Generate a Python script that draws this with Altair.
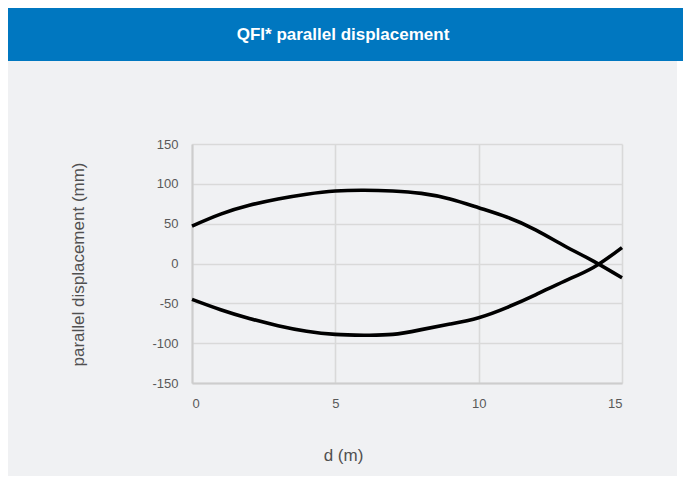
import altair as alt
import pandas as pd

d_m = list(range(16))
upper = [47, 62, 73, 81, 87, 91, 92, 91, 88, 81, 70, 58, 42, 22, 3, -18]
lower = [-45, -58, -69, -78, -85, -89, -90, -89, -83, -76, -68, -55, -39, -22, -5, 20]
x_ticks = [0, 5, 10, 15]
y_ticks = [-150, -100, -50, 0, 50, 100, 150]
title_text = "QFI* parallel displacement"

df = pd.DataFrame({
    "d": d_m + d_m,
    "v": upper + lower,
    "s": ["upper"] * len(d_m) + ["lower"] * len(d_m),
})

FONT = "Liberation Sans"

one = alt.Data(values=[{}])

blue = alt.Chart(one).mark_rect(color="#0077c0").encode(
    x=alt.value(-184), x2=alt.value(491), y=alt.value(-136), y2=alt.value(-83)
)
white_strip = alt.Chart(one).mark_rect(color="#ffffff").encode(
    x=alt.value(485), x2=alt.value(491), y=alt.value(-83), y2=alt.value(332)
)
title = alt.Chart(one).mark_text(
    text=title_text, color="white", fontSize=17, font=FONT, fontWeight="bold",
    align="center", baseline="middle"
).encode(x=alt.value(151), y=alt.value(-109))

line = alt.Chart(df).mark_line(color="black", strokeWidth=3.6, interpolate="natural").encode(
    x=alt.X("d:Q", scale=alt.Scale(domain=[0, 15], nice=False),
            axis=alt.Axis(values=x_ticks, title="d (m)", titleX=151, titleY=72,
                          titleBaseline="middle", labelPadding=14,
                          labelExpr="toString(datum.value)")),
    y=alt.Y("v:Q", scale=alt.Scale(domain=[-150, 150], nice=False),
            axis=alt.Axis(values=y_ticks, title="parallel displacement (mm)",
                          titleX=-114, titleY=120, titleAngle=270, titleAlign="center",
                          titleBaseline="middle", labelPadding=14,
                          labelExpr="toString(datum.value)")),
    detail="s:N",
)

chart = alt.layer(blue, white_strip, title, line).properties(
    width=430, height=239, background="#f0f1f3", padding=0
).configure_view(stroke=None, fill="#f0f1f3").configure_axis(
    ticks=False,
    grid=True,
    gridColor="#d9d9d9",
    gridWidth=1.6,
    domainColor="#cdcdcd",
    domainWidth=2,
    labelFont=FONT,
    labelFontSize=13,
    labelColor="#595959",
    titleFont=FONT,
    titleFontSize=17,
    titleFontWeight="normal",
    titleColor="#505050",
)

chart.save("out.html", embed_options={"renderer": "svg", "actions": False})
